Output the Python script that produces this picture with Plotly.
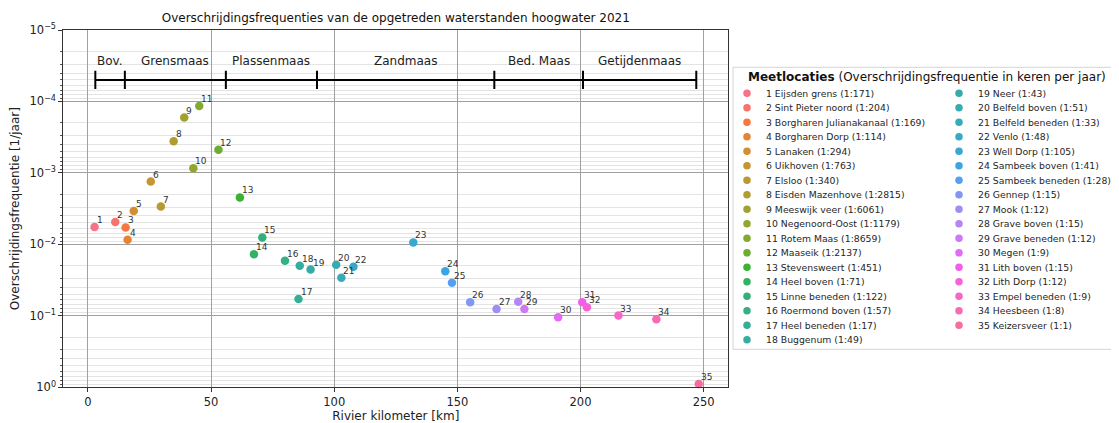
import math
import numpy as np
import plotly.graph_objects as go

# ---------------- data ----------------
names = ["Eijsden grens", "Sint Pieter noord", "Borgharen Julianakanaal", "Borgharen Dorp",
         "Lanaken", "Uikhoven", "Elsloo", "Eisden Mazenhove", "Meeswijk veer",
         "Negenoord-Oost", "Rotem Maas", "Maaseik", "Stevensweert", "Heel boven",
         "Linne beneden", "Roermond boven", "Heel beneden", "Buggenum", "Neer",
         "Belfeld boven", "Belfeld beneden", "Venlo", "Well Dorp", "Sambeek boven",
         "Sambeek beneden", "Gennep", "Mook", "Grave boven", "Grave beneden", "Megen",
         "Lith boven", "Lith Dorp", "Empel beneden", "Heesbeen", "Keizersveer"]
river_km = [2.7, 11.1, 15.3, 16.1, 18.6, 25.5, 29.6, 34.8, 39.1, 42.8, 45.2, 53.0,
            61.7, 67.4, 70.8, 80.0, 85.5, 86.0, 90.4, 100.8, 102.9, 107.8, 132.1,
            145.1, 147.8, 155.2, 165.9, 174.7, 177.2, 190.9, 200.7, 202.6, 215.4,
            230.8, 248.0]
exceed_freq = [5.7e-3, 4.85e-3, 5.8e-3, 8.6e-3, 3.4e-3, 1.32e-3, 2.96e-3, 3.6e-4,
               1.68e-4, 8.6e-4, 1.16e-4, 4.75e-4, 2.2e-3, 1.37e-2, 8.0e-3, 1.69e-2,
               5.8e-2, 1.99e-2, 2.25e-2, 1.93e-2, 2.93e-2, 2.06e-2, 9.4e-3, 2.37e-2,
               3.45e-2, 6.45e-2, 8.05e-2, 6.35e-2, 8.05e-2, 0.105, 6.45e-2, 7.6e-2,
               9.9e-2, 0.112, 0.90]
return_period = [171, 204, 169, 114, 294, 763, 340, 2815, 6061, 1179, 8659, 2137, 451,
                 71, 122, 57, 17, 49, 43, 51, 33, 48, 105, 41, 28, 15, 12, 15, 12, 9,
                 15, 12, 9, 8, 1]

section_names = ["Bov.", "Grensmaas", "Plassenmaas", "Zandmaas", "Bed. Maas", "Getijdenmaas"]
section_bounds = [3, 15, 56, 93, 165, 201, 247]

y_tickvals = [1e-5, 1e-4, 1e-3, 1e-2, 1e-1, 1e0]
y_ticktext = ["10<sup>\u22125</sup>", "10<sup>\u22124</sup>", "10<sup>\u22123</sup>",
              "10<sup>\u22122</sup>", "10<sup>\u22121</sup>", "10<sup>0</sup>"]
x_tickvals = [0, 50, 100, 150, 200, 250]

# ---------------- husl palette (as seaborn) ----------------
_M = [[3.2406, -1.5372, -0.4986], [-0.9689, 1.8758, 0.0415], [0.0557, -0.2040, 1.0570]]
_REF_U, _REF_V, _KAPPA, _EPS = 0.19784, 0.46834, 903.3, 0.008856


def _max_chroma(L, H):
    hrad = math.radians(H)
    sinH, cosH = math.sin(hrad), math.cos(hrad)
    sub1 = (L + 16) ** 3 / 1560896.0
    sub2 = sub1 if sub1 > _EPS else L / _KAPPA
    result = float("inf")
    for m1, m2, m3 in _M:
        top = (0.99915 * m1 + 1.05122 * m2 + 1.14460 * m3) * sub2
        rbottom = 0.86330 * m3 - 0.17266 * m2
        lbottom = 0.12949 * m3 - 0.38848 * m1
        bottom = (rbottom * sinH + lbottom * cosH) * sub2
        for t in (0.0, 1.0):
            C = L * (top - 1.05122 * t) / (bottom + 0.17266 * sinH * t)
            if 0.0 < C < result:
                result = C
    return result


def husl_to_hex(h, s, l):
    C = _max_chroma(l, h) / 100.0 * s
    hr = math.radians(h)
    U, V = math.cos(hr) * C, math.sin(hr) * C
    Y = ((l + 16) / 116.0) ** 3 if l > _KAPPA * _EPS else l / _KAPPA
    varU = U / (13 * l) + _REF_U
    varV = V / (13 * l) + _REF_V
    X = 0 - (9 * Y * varU) / ((varU - 4) * varV - varU * varV)
    Z = (9 * Y - 15 * varV * Y - varV * X) / (3 * varV)
    rgb = []
    for row in _M:
        c = row[0] * X + row[1] * Y + row[2] * Z
        c = 12.92 * c if c <= 0.0031308 else 1.055 * c ** (1 / 2.4) - 0.055
        rgb.append(min(max(c, 0.0), 1.0))
    return "#%02x%02x%02x" % tuple(int(round(v * 255)) for v in rgb)


n = len(names)
hues = (np.linspace(0, 1, n + 1)[:-1] + 0.01) % 1 * 359
colors = [husl_to_hex(h, 0.9 * 99, 0.65 * 99) for h in hues]

# ---------------- layout geometry (screen px, page has an 8px body margin) ----------------
OFF = 8
W, H = 1119 - OFF, 423 - OFF
FONT = "DejaVu Sans"
plot_l, plot_r, plot_t, plot_b = 63.3 - OFF, 728.3 - OFF, 30.0 - OFF, 387.3 - OFF
leg_l, leg_r, leg_t, leg_b = 733.0 - OFF, 1119.0 - OFF, 67.3 - OFF, 349.3 - OFF
leg_w, leg_h = leg_r - leg_l, leg_b - leg_t
ROWS = 18
ROW_H, ROW0 = 14.5, 26.0
COL_W, MARK_X, TEXT_DX = 212.0, 14.0, 18.0

fig = go.Figure()

# river section bar
fig.add_trace(go.Scatter(
    x=section_bounds, y=[5e-5] * len(section_bounds), mode="lines+markers",
    line=dict(color="black", width=2),
    marker=dict(symbol="line-ns", size=13, line=dict(width=2, color="black")),
    hoverinfo="skip", showlegend=False))

# measurement points
fig.add_trace(go.Scatter(
    x=river_km, y=exceed_freq, mode="markers",
    marker=dict(size=8.5, color=colors, line=dict(width=0)),
    cliponaxis=False, showlegend=False,
    text=[f"{i+1} {nm}" for i, nm in enumerate(names)], hoverinfo="text+x+y"))

annotations = []
for i in range(n):
    annotations.append(dict(
        x=river_km[i], y=math.log10(exceed_freq[i]), xref="x", yref="y",
        text=str(i + 1), showarrow=False, xanchor="left", yanchor="bottom",
        xshift=0, yshift=0, font=dict(family=FONT, size=9, color="#333333")))

for k, nm in enumerate(section_names):
    mid = (section_bounds[k] + section_bounds[k + 1]) / 2
    annotations.append(dict(
        x=mid, y=math.log10(2.7e-5), xref="x", yref="y", text=nm, showarrow=False,
        xanchor="center", yanchor="middle", font=dict(family=FONT, size=12, color="#222222")))

# manual legend (two columns)
cols = [i // ROWS for i in range(n)]
rows = [i % ROWS for i in range(n)]
fig.add_trace(go.Scatter(
    x=[MARK_X + COL_W * c for c in cols], y=[ROW0 + ROW_H * r for r in rows],
    xaxis="x2", yaxis="y2", mode="markers",
    marker=dict(size=7.5, color=colors), hoverinfo="skip", showlegend=False,
    cliponaxis=False))
for i in range(n):
    annotations.append(dict(
        x=MARK_X + COL_W * cols[i] + TEXT_DX, y=ROW0 + ROW_H * rows[i], xref="x2", yref="y2",
        text=f"{i+1} {names[i]} (1:{return_period[i]})", showarrow=False,
        xanchor="left", yanchor="middle", xshift=-1,
        font=dict(family=FONT, size=9.3, color="#262626")))
annotations.append(dict(
    x=MARK_X, y=9.6, xref="x2", yref="y2",
    text="<b>Meetlocaties</b> (Overschrijdingsfrequentie in keren per jaar)",
    showarrow=False, xanchor="left", yanchor="middle", xshift=-1,
    font=dict(family=FONT, size=12, color="#111111")))

fig.update_layout(
    width=W, height=H, margin=dict(l=0, r=0, t=0, b=0),
    paper_bgcolor="white", plot_bgcolor="white",
    font=dict(family=FONT, size=12, color="#222222"),
    title=dict(text="Overschrijdingsfrequenties van de opgetreden waterstanden hoogwater 2021",
               x=(plot_l + plot_r) / 2 / W, xanchor="center", xref="container",
               y=1 - (18 - OFF) / H, yanchor="middle", yref="container",
               font=dict(family=FONT, size=12, color="#111111")),
    xaxis=dict(domain=[plot_l / W, plot_r / W], range=[-10, 260], anchor="y",
               tickvals=x_tickvals, ticks="outside", ticklen=4, tickcolor="#333333",
               showline=True, mirror=True, linecolor="#333333", linewidth=1,
               showgrid=True, gridcolor="#a0a0a0", gridwidth=1, zeroline=False,
               tickfont=dict(size=11.5), automargin=False,
               title=dict(text="Rivier kilometer [km]", font=dict(size=12), standoff=2)),
    yaxis=dict(domain=[1 - plot_b / H, 1 - plot_t / H], type="log", range=[0, -5], anchor="x",
               tickvals=y_tickvals, ticktext=y_ticktext, ticks="outside", ticklen=4,
               tickcolor="#333333", showline=True, mirror=True, linecolor="#333333",
               linewidth=1, showgrid=True, gridcolor="#a0a0a0", gridwidth=1, zeroline=False,
               tickfont=dict(size=11.5), automargin=False,
               minor=dict(dtick="D1", showgrid=True, gridcolor="#e4e4e4", gridwidth=1,
                          ticks="outside", ticklen=2, tickcolor="#555555"),
               title=dict(text="Overschrijdingsfrequentie [1/jaar]", font=dict(size=12), standoff=8)),
    xaxis2=dict(domain=[leg_l / W, leg_r / W], range=[0, leg_w], anchor="y2",
                visible=False, fixedrange=True),
    yaxis2=dict(domain=[1 - leg_b / H, 1 - leg_t / H], range=[leg_h, 0], anchor="x2",
                visible=False, fixedrange=True),
    shapes=[dict(type="rect", xref="x2 domain", yref="y2 domain", x0=0, x1=1, y0=0, y1=1,
                 line=dict(color="#d4d4d4", width=1), fillcolor="rgba(255,255,255,0.9)",
                 layer="below")],
    annotations=annotations,
    showlegend=False,
)

fig.write_html("out.html")
